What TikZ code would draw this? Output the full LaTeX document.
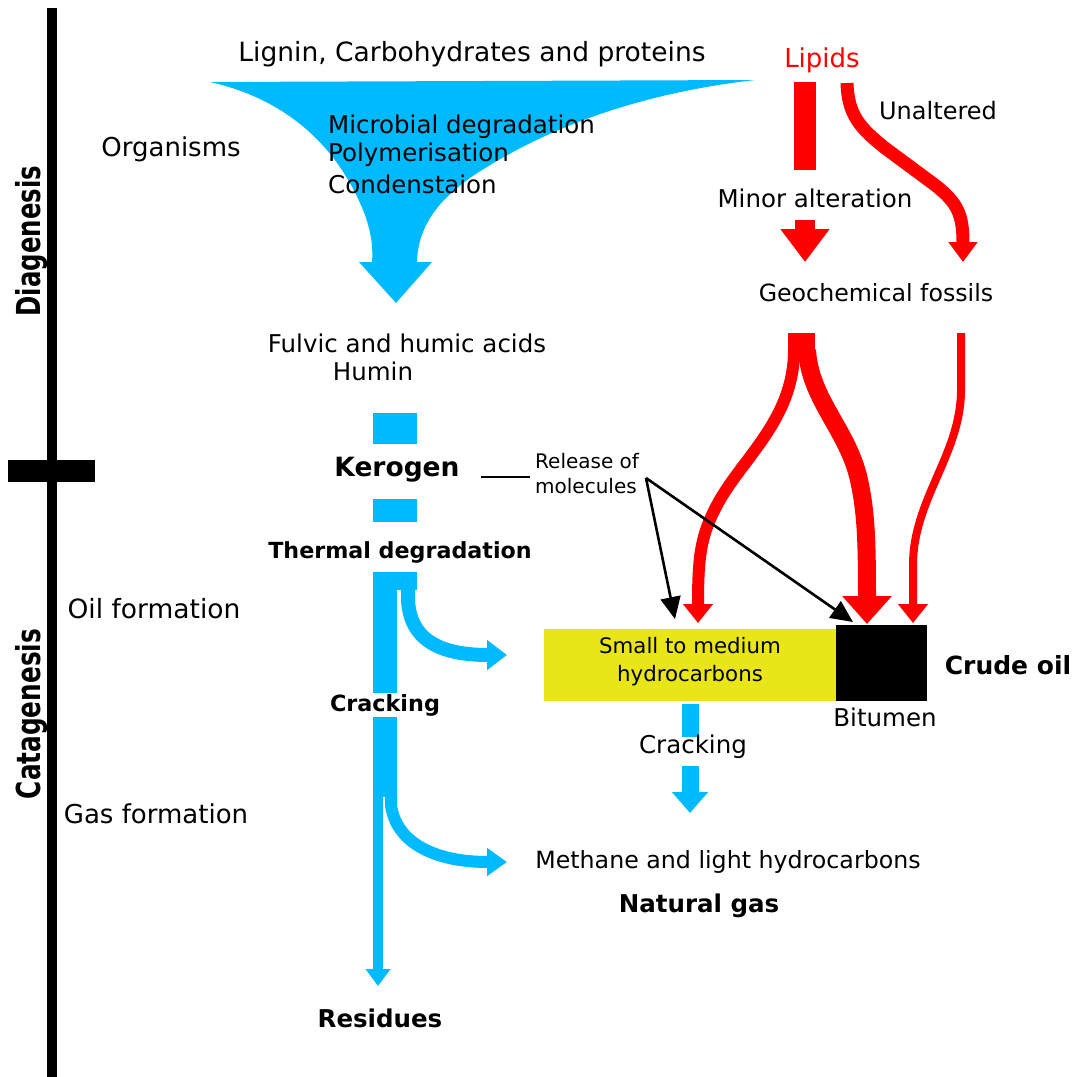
\documentclass[tikz,border=0pt]{standalone}
\usepackage{fontspec}
\usepackage{graphicx}
\setmainfont{DejaVu Sans}
\usetikzlibrary{arrows.meta}
\definecolor{cblue}{RGB}{0,186,255}
\definecolor{cred}{RGB}{255,0,0}
\definecolor{cyel}{RGB}{232,230,24}
\begin{document}
\begin{tikzpicture}[x=1pt,y=-1pt,
  txt/.style={inner sep=0pt, font=\fontsize{24.5}{29}\selectfont},
  btxt/.style={inner sep=0pt, font=\bfseries\fontsize{24.5}{29}\selectfont},
  side/.style={inner sep=0pt, rotate=90, font=\bfseries\fontsize{33}{36}\selectfont},
  redarr/.style={draw=cred, line cap=butt},
  bluearr/.style={draw=cblue, line cap=butt},
  blk/.style={draw=black, line width=2.6pt}
]
\useasboundingbox (0,0) rectangle (1075,1077);
% time axis
\fill[black] (47,8) rectangle (57,1077);
\fill[black] (8,460) rectangle (95,482);
\node[side] (diag) at (32,241) {\scalebox{0.74}[1]{Diagenesis}};
\node[side] (cata) at (32,714) {\scalebox{0.75}[1]{Catagenesis}};
\node[txt, font=\fontsize{26}{30}\selectfont] (org) at (171,149) {Organisms};
\node[txt, font=\fontsize{26.5}{30}\selectfont] (oilf) at (154,609) {Oil formation};
\node[txt, font=\fontsize{26}{30}\selectfont] (gasf) at (156,814) {Gas formation};

% funnel
\fill[cblue] (755,80) -- (210,82) .. controls (290,100) and (340,150) .. (365,215) .. controls (372,235) and (373,250) .. (372,262) -- (359,262) -- (396,303) -- (432,262) -- (417,262) .. controls (418,225) and (440,195) .. (487,167) .. controls (560,122) and (650,92) .. (755,80) -- cycle;
\node[txt, font=\fontsize{26.5}{30}\selectfont] (lig) at (472,54) {Lignin, Carbohydrates and proteins};
\node[txt, anchor=west] (micro) at (328,127) {Microbial degradation};
\node[txt, anchor=west] (poly) at (328,155) {Polymerisation};
\node[txt, anchor=west] (cond) at (328,184) {Condenstaion};

\node[txt] (fulvic) at (407,343) {Fulvic and humic acids};
\node[txt] (humin) at (373,371) {Humin};
\fill[cblue] (373,413) rectangle (417,444);
\node[btxt, font=\bfseries\fontsize{26.5}{30}\selectfont] (kero) at (397,470) {Kerogen};
\fill[cblue] (373,499) rectangle (417,522);
\node[btxt, font=\bfseries\fontsize{22.2}{26}\selectfont] (therm) at (400,552) {Thermal degradation};

% lower blue structure
\fill[cblue] (373,572) rectangle (417,590);
\fill[cblue] (373,572) rectangle (397,693);
\fill[cblue] (373,717) rectangle (397,797);
\draw[bluearr, line width=10pt, -{Triangle[length=17pt,width=24pt]}] (378,795) -- (378,986);
\draw[bluearr, line width=14pt, -{Triangle[length=20pt,width=29pt]}] (408,588) -- (408,600) .. controls (410,640) and (440,655) .. (507,655);
\draw[bluearr, line width=12pt, -{Triangle[length=20pt,width=27pt]}] (391,795) -- (391,805) .. controls (396,843) and (435,862) .. (507,862);
\node[btxt, font=\bfseries\fontsize{22.3}{26}\selectfont] (crack1) at (385,705) {Cracking};
\node[btxt] (resid) at (380,1018) {Residues};

% lipids
\node[txt, text=cred, font=\fontsize{26}{30}\selectfont] (lip) at (822,60) {Lipids};
\fill[cred] (794,82) rectangle (816,170);
\node[txt] (minor) at (815,198) {Minor alteration};
\draw[redarr, line width=20pt, -{Triangle[length=33pt,width=47pt]}] (805,220) -- (805,262);
\draw[redarr, line width=13pt, -{Triangle[length=20pt,width=28pt]}] (847,83) .. controls (848,115) and (860,128) .. (885,148) -- (935,185) .. controls (958,203) and (963,215) .. (963,262);
\node[txt, font=\fontsize{24}{28}\selectfont] (unalt) at (938,111) {Unaltered};
\node[txt, font=\fontsize{23.7}{28}\selectfont] (geo) at (876,293) {Geochemical fossils};

% branches from geochemical fossils
\fill[cred] (788,333) rectangle (815,353);
\draw[redarr, line width=12pt, -{Triangle[length=19pt,width=29pt]}] (794,350) .. controls (794,420) and (742,458) .. (717,505) .. controls (701,535) and (698,555) .. (698,623);
\draw[redarr, line width=18pt, -{Triangle[length=28pt,width=48pt]}] (807,350) .. controls (810,400) and (848,430) .. (859,480) .. controls (866,512) and (867,540) .. (867,624);
\draw[redarr, line width=8pt, -{Triangle[length=19pt,width=29pt]}] (961,333) -- (961,392) .. controls (960,455) and (913,500) .. (913,565) -- (913,623);

% boxes
\node[fill=cyel, minimum width=292pt, minimum height=72pt, inner sep=0pt, anchor=north west] (hc) at (544,629) {};
\node[txt, align=center, font=\fontsize{21.3}{28}\selectfont] (hctext) at (690,662) {Small to medium\\hydrocarbons};
\node[fill=black, minimum width=91pt, minimum height=76pt, inner sep=0pt, anchor=north west] (bit) at (836,625) {};
\node[txt] (bitlbl) at (885,717) {Bitumen};
\node[btxt, font=\bfseries\fontsize{25}{29}\selectfont] (crude) at (1008,665) {Crude oil};

% cracking of hydrocarbons
\fill[cblue] (682,704) rectangle (699,737);
\draw[bluearr, line width=17pt, -{Triangle[length=21pt,width=35pt]}] (690,766) -- (690,813);
\node[txt] (crack2) at (693,747) {Cracking};
\node[txt, font=\fontsize{23.7}{28}\selectfont] (meth) at (728,862) {Methane and light hydrocarbons};
\node[btxt] (ngas) at (699,906) {Natural gas};

% release of molecules
\node[txt, anchor=west, align=left, font=\fontsize{20}{25}\selectfont] (rel) at (535,474) {Release of\\molecules};
\coordinate (kr) at (481,477);
\coordinate (kr2) at (530,477);
\coordinate (relp) at (646,478);
\coordinate (t1) at (675,619);
\coordinate (t2) at (853,622);
\draw[blk] (kr) -- (kr2);
\draw[blk, -{Triangle[length=22pt,width=20pt]}] (relp) -- (t1);
\draw[blk, -{Triangle[length=22pt,width=20pt]}] (relp) -- (t2);
\end{tikzpicture}
\end{document}
